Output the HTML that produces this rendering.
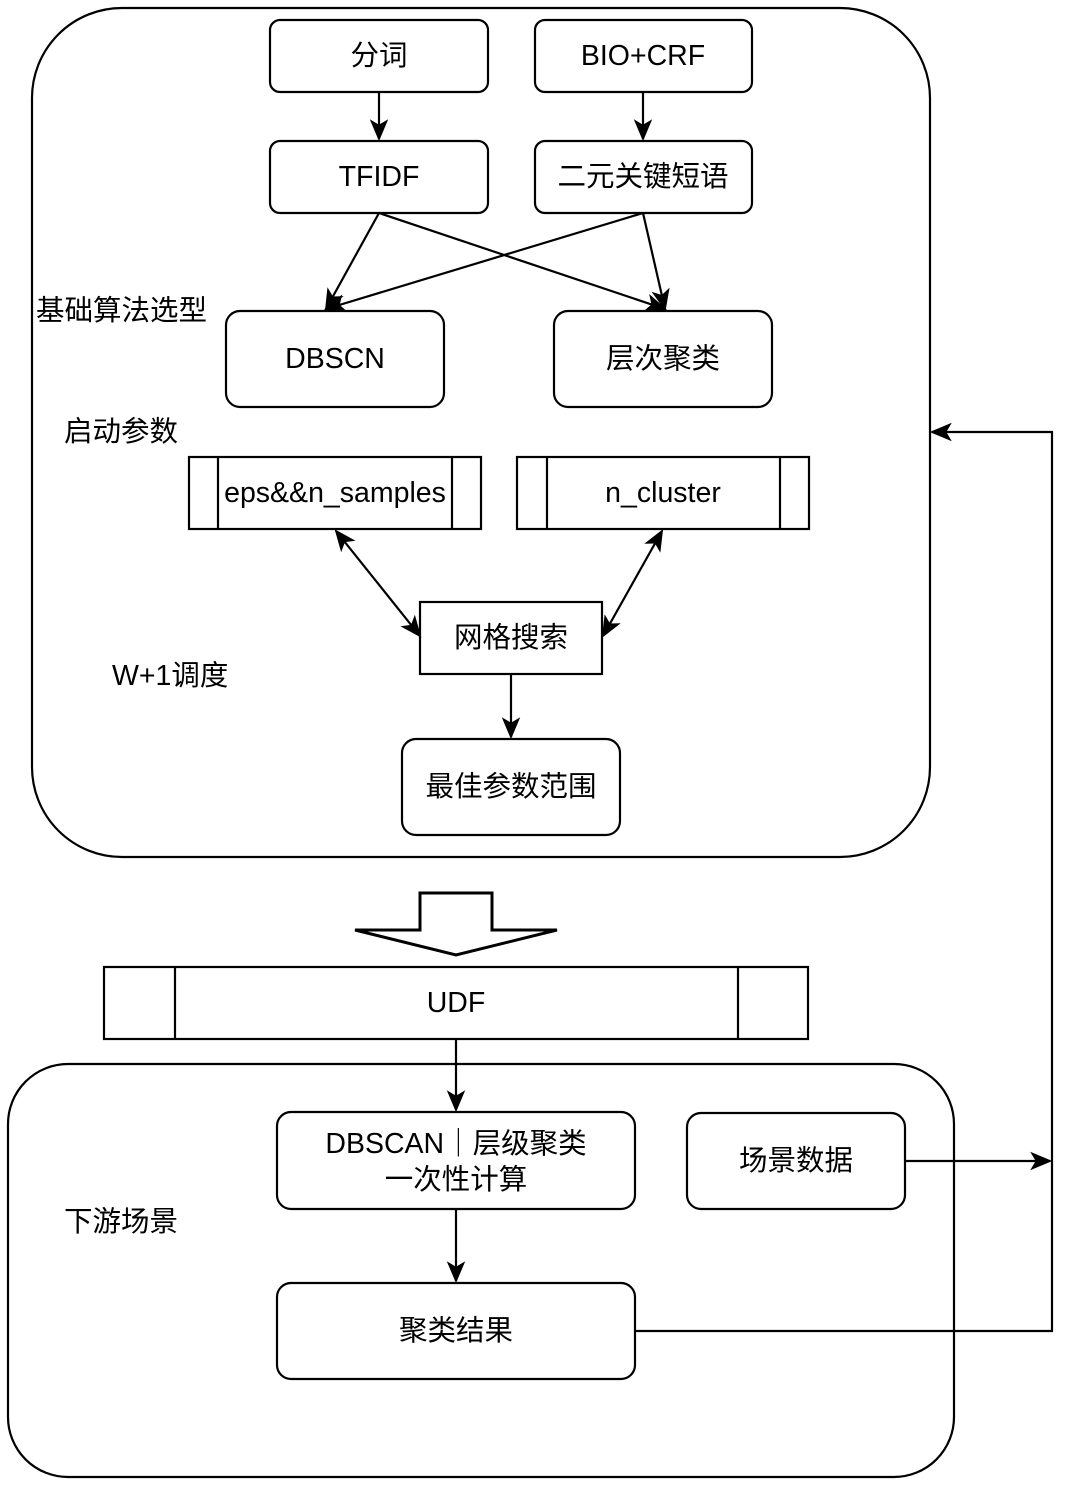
<!DOCTYPE html>
<html><head><meta charset="utf-8">
<style>
html,body{margin:0;padding:0;background:#fff;}
svg{display:block;}
text{font-family:"Liberation Sans","Noto Sans CJK SC",sans-serif;font-size:28.5px;fill:#000;}
</style></head>
<body>
<svg width="1080" height="1486" viewBox="0 0 1080 1486" xmlns="http://www.w3.org/2000/svg">
<defs>
<marker id="b" viewBox="0 0 10 10" refX="9" refY="5" markerWidth="22" markerHeight="22" markerUnits="userSpaceOnUse" orient="auto-start-reverse">
<path d="M0,0.8 L10,5 L0,9.2 L2.5,5 z" fill="#000"/>
</marker>
</defs>
<g fill="none" stroke="#000" stroke-width="2.2">
<rect x="32" y="8" width="898" height="849" rx="90"/>
<rect x="270" y="20" width="218" height="72" rx="10"/>
<rect x="535" y="20" width="217" height="72" rx="10"/>
<rect x="270" y="141" width="218" height="72" rx="10"/>
<rect x="535" y="141" width="217" height="72" rx="10"/>
<rect x="226" y="311" width="218" height="96" rx="14"/>
<rect x="554" y="311" width="218" height="96" rx="14"/>
<rect x="189" y="457" width="292" height="72"/>
<line x1="218" y1="457" x2="218" y2="529"/><line x1="452" y1="457" x2="452" y2="529"/>
<rect x="517" y="457" width="292" height="72"/>
<line x1="547" y1="457" x2="547" y2="529"/><line x1="780" y1="457" x2="780" y2="529"/>
<rect x="420" y="602" width="182" height="72"/>
<rect x="402" y="739" width="218" height="96" rx="14"/>
<path d="M420,893 L492,893 L492,930 L557,930 L456,955 L355,930 L420,930 Z" stroke-width="3"/>
<rect x="104" y="967" width="704" height="72"/>
<line x1="175" y1="967" x2="175" y2="1039"/><line x1="738" y1="967" x2="738" y2="1039"/>
<rect x="8" y="1064" width="946" height="413" rx="60"/>
<rect x="277" y="1112" width="358" height="97" rx="14"/>
<rect x="687" y="1113" width="218" height="96" rx="14"/>
<rect x="277" y="1283" width="358" height="96" rx="14"/>

<line x1="379" y1="92" x2="379" y2="139" marker-end="url(#b)"/>
<line x1="643" y1="92" x2="643" y2="139" marker-end="url(#b)"/>
<line x1="379" y1="213" x2="326" y2="309" marker-end="url(#b)"/>
<line x1="379" y1="213" x2="665" y2="309" marker-end="url(#b)"/>
<line x1="643" y1="213" x2="326" y2="309" marker-end="url(#b)"/>
<line x1="643" y1="213" x2="665" y2="309" marker-end="url(#b)"/>
<line x1="336" y1="531" x2="420" y2="636" marker-start="url(#b)" marker-end="url(#b)"/>
<line x1="662" y1="531" x2="603" y2="636" marker-start="url(#b)" marker-end="url(#b)"/>
<line x1="511" y1="674" x2="511" y2="737" marker-end="url(#b)"/>
<line x1="456" y1="1039" x2="456" y2="1110" marker-end="url(#b)"/>
<line x1="456" y1="1209" x2="456" y2="1281" marker-end="url(#b)"/>
<line x1="905" y1="1161" x2="1050" y2="1161" marker-end="url(#b)"/>
<polyline points="635,1331 1052,1331 1052,432 932,432" marker-end="url(#b)"/>
</g>
<g text-anchor="middle" dominant-baseline="central">
<text x="379" y="56">分词</text>
<text x="643" y="56">BIO+CRF</text>
<text x="379" y="177">TFIDF</text>
<text x="643" y="177">二元关键短语</text>
<text x="335" y="359">DBSCN</text>
<text x="663" y="359">层次聚类</text>
<text x="335" y="493">eps&amp;&amp;n_samples</text>
<text x="663" y="493">n_cluster</text>
<text x="511" y="638">网格搜索</text>
<text x="511" y="787">最佳参数范围</text>
<text x="456" y="1003">UDF</text>
<text x="456" y="1144">DBSCAN｜层级聚类</text>
<text x="456" y="1180">一次性计算</text>
<text x="796" y="1161">场景数据</text>
<text x="456" y="1331">聚类结果</text>
</g>
<g dominant-baseline="central">
<text x="36" y="311">基础算法选型</text>
<text x="64" y="432">启动参数</text>
<text x="112" y="676">W+1调度</text>
<text x="64" y="1222">下游场景</text>
</g>
</svg>
</body></html>
